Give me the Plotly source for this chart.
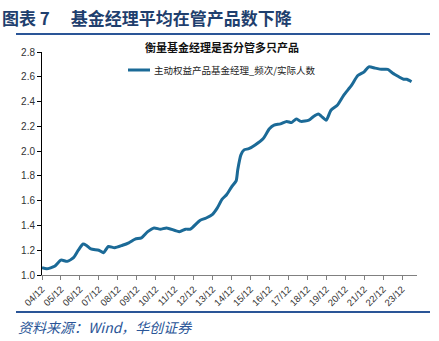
import plotly.graph_objects as go

dates = ["2004-12", "2005-03", "2005-08", "2005-12", "2006-04", "2006-08", "2006-11",
         "2007-02", "2007-04", "2007-07", "2007-12", "2008-03", "2008-06", "2008-10",
         "2009-03", "2009-07", "2009-11", "2010-03", "2010-07", "2010-11", "2011-03",
         "2011-07", "2012-03", "2012-07", "2012-10", "2013-04", "2013-08", "2013-12",
         "2014-03", "2014-06", "2014-09", "2014-12", "2015-03", "2015-04", "2015-06",
         "2015-08", "2015-11", "2016-03", "2016-08", "2016-12", "2017-03", "2017-07",
         "2017-11", "2018-02", "2018-05", "2018-08", "2019-01", "2019-04", "2019-07",
         "2019-09", "2019-12", "2020-03", "2020-07", "2020-11", "2021-04", "2021-08",
         "2021-12", "2022-03", "2022-07", "2022-11", "2023-03", "2023-06", "2023-10",
         "2024-01", "2024-03", "2024-06"]
values = [1.06, 1.05, 1.07, 1.12, 1.11, 1.14, 1.20,
          1.25, 1.24, 1.21, 1.20, 1.18, 1.23, 1.22,
          1.24, 1.26, 1.29, 1.30, 1.35, 1.38, 1.37,
          1.38, 1.35, 1.37, 1.37, 1.44, 1.46, 1.49,
          1.54, 1.61, 1.65, 1.71, 1.76, 1.85, 1.97,
          2.01, 2.02, 2.05, 2.10, 2.18, 2.21, 2.22,
          2.24, 2.23, 2.26, 2.24, 2.25, 2.28, 2.30,
          2.28, 2.25, 2.33, 2.37, 2.45, 2.53, 2.61,
          2.64, 2.68, 2.67, 2.66, 2.66, 2.63, 2.60,
          2.58, 2.58, 2.56]
tick_dates = [f"{y}-12-01" for y in range(2004, 2024)]
tick_labels = [f"{y % 100:02d}/12" for y in range(2004, 2024)]

series_name = "主动权益产品基金经理_频次/实际人数"
blue = "#1B6A97"

fig = go.Figure()
fig.add_trace(go.Scatter(x=dates, y=values, mode="lines", name=series_name,
                         line=dict(color=blue, width=3, shape="spline", smoothing=0.6)))

fig.update_layout(
    width=439, height=341,
    margin=dict(l=42, r=22, t=52, b=66),
    paper_bgcolor="white", plot_bgcolor="white",
    showlegend=False,
    font=dict(family="Liberation Sans, Arial, sans-serif", size=10, color="#333333"),
)
fig.update_xaxes(
    type="date", range=["2004-12-01", "2024-09-15"],
    tickvals=tick_dates, ticktext=tick_labels, tickangle=-45,
    showline=True, linecolor="#808080", linewidth=1,
    ticks="outside", ticklen=4, tickcolor="#808080",
    showgrid=False, zeroline=False, tickfont=dict(size=9.5, color="#333333"),
)
fig.update_yaxes(
    range=[1.0, 2.8], tickvals=[1.0, 1.2, 1.4, 1.6, 1.8, 2.0, 2.2, 2.4, 2.6, 2.8],
    ticktext=["1.0", "1.2", "1.4", "1.6", "1.8", "2.0", "2.2", "2.4", "2.6", "2.8"],
    showline=True, linecolor="#000000", linewidth=1,
    ticks="outside", ticklen=4, tickcolor="#000000",
    showgrid=False, zeroline=False, tickfont=dict(size=10, color="#333333"),
)

cjk = "Noto Sans CJK SC"
# Header title
fig.add_annotation(xref="paper", yref="paper", x=-42/375, y=1 + (52 - 17) / 223,
                   xanchor="left", yanchor="middle", showarrow=False,
                   text="<b>图表 7　 基金经理平均在管产品数下降</b>",
                   font=dict(family=cjk, size=17, color="#1F3F6E"))
# Lines
fig.add_shape(type="line", xref="paper", yref="paper",
              x0=(16 - 42) / 375, x1=(430 - 42) / 375,
              y0=1 + (52 - 34) / 223, y1=1 + (52 - 34) / 223,
              line=dict(color="#2A5597", width=2))
fig.add_shape(type="line", xref="paper", yref="paper",
              x0=(16 - 42) / 375, x1=(430 - 42) / 375,
              y0=-(312 - 275) / 223, y1=-(312 - 275) / 223,
              line=dict(color="#2A5597", width=2))
# Chart subtitle
fig.add_annotation(xref="paper", yref="paper", x=(222 - 42) / 375, y=1 + (52 - 47) / 223,
                   xanchor="center", yanchor="middle", showarrow=False,
                   text="<b>衡量基金经理是否分管多只产品</b>",
                   font=dict(family=cjk, size=11, color="#111111"))
# Legend
fig.add_shape(type="line", xref="paper", yref="paper",
              x0=(128 - 42) / 375, x1=(150 - 42) / 375,
              y0=1 + (52 - 70) / 223, y1=1 + (52 - 70) / 223,
              line=dict(color=blue, width=3))
fig.add_annotation(xref="paper", yref="paper", x=(152 - 42) / 375, y=1 + (52 - 70) / 223,
                   xanchor="left", yanchor="middle", showarrow=False,
                   text=series_name,
                   font=dict(family=cjk, size=9.5, color="#222222"))
# Source
fig.add_annotation(xref="paper", yref="paper", x=(16 - 42) / 375, y=-(327 - 275) / 223,
                   xanchor="left", yanchor="middle", showarrow=False,
                   text="<i>资料来源：Wind，华创证券</i>",
                   font=dict(family=cjk, size=14, color="#2A5597"))

fig.write_html("out.html")
